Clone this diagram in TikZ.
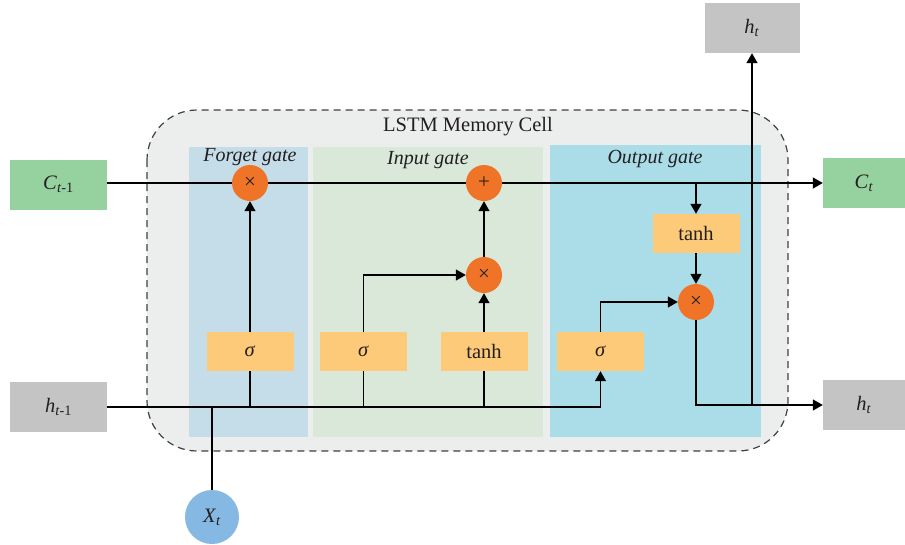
\documentclass[tikz,border=0pt]{standalone}
\usepackage{fontspec}
\setmainfont{Liberation Serif}
\usetikzlibrary{arrows.meta}
\definecolor{cellbg}{HTML}{ECEEED}
\definecolor{fgbg}{HTML}{C5DDE8}
\definecolor{igbg}{HTML}{D9E8D8}
\definecolor{ogbg}{HTML}{ABDDE9}
\definecolor{cgreen}{HTML}{96D1A0}
\definecolor{hgray}{HTML}{C3C4C3}
\definecolor{opor}{HTML}{F07427}
\definecolor{fnbox}{HTML}{FDCA7A}
\definecolor{xblue}{HTML}{85B8E3}
\definecolor{ink}{HTML}{231F20}
\newcommand\varsub[2]{\textit{#1}\textsubscript{#2}}
\begin{document}
\begin{tikzpicture}[x=1pt,y=-1pt,
  txt/.style={font=\fontsize{20.5}{23}\selectfont, text=ink},
  iobox/.style={txt, inner sep=0pt, minimum height=50pt},
  fnode/.style={txt, fill=fnbox, inner sep=0pt, minimum width=87pt, minimum height=39pt},
  opnode/.style={circle, fill=opor, inner sep=0pt, minimum size=36pt, text=ink, font=\fontsize{21}{21}\selectfont},
  gatelbl/.style={txt, font=\fontsize{20}{22}\selectfont\itshape},
  conn/.style={line width=1.3pt, draw=black},
  arr/.style={conn, -{Triangle[length=10pt,width=11pt]}}
]
\useasboundingbox (0,0) rectangle (905,544);
% memory cell
\draw[fill=cellbg, draw=black!75, line width=1.2pt, dash pattern=on 7pt off 5pt, rounded corners=50pt]
  (147,110) rectangle (788,451);
\fill[fgbg] (189,147) rectangle (308,437);
\fill[igbg] (313,147) rectangle (543,437);
\fill[ogbg] (550,145) rectangle (761,437);
\node[txt] (title) at (468,127) {LSTM Memory Cell};
\node[gatelbl] (fgl) at (250,157) {Forget gate};
\node[gatelbl] (igl) at (428,160) {Input gate};
\node[gatelbl] (ogl) at (655,159) {Output gate};
% inputs / outputs
\node[iobox, fill=cgreen, minimum width=97pt] (cm1) at (58.5,184.5) {\varsub{C}{\textit{t}-1}};
\node[iobox, fill=hgray, minimum width=97pt] (hm1) at (58.5,407) {\varsub{h}{\textit{t}-1}};
\node[iobox, fill=cgreen, minimum width=82pt] (ct) at (864,183) {\varsub{C}{\textit{t}}};
\node[iobox, fill=hgray, minimum width=82pt] (ht) at (864,405) {\varsub{h}{\textit{t}}};
\node[iobox, fill=hgray, minimum width=95pt] (htop) at (752,28) {\varsub{h}{\textit{t}}};
\node[circle, fill=xblue, inner sep=0pt, minimum size=54pt, txt] (xt) at (212,517) {\varsub{X}{\textit{t}}};
% operators
\node[opnode] (fx) at (250,183) {×};
\node[opnode] (ip) at (484,183) {+};
\node[opnode] (ix) at (484,275) {×};
\node[opnode] (ox) at (696,302) {×};
% function boxes
\node[fnode] (fs) at (250,351.5) {\textit{σ}};
\node[fnode] (is) at (363.5,351.5) {\textit{σ}};
\node[fnode] (itanh) at (484,351.5) {tanh};
\node[fnode] (os) at (600.5,351.5) {\textit{σ}};
\node[fnode] (otanh) at (696,233.5) {tanh};
% cell state line
\draw[conn] (cm1.east |- fx.west) -- (fx.west);
\draw[conn] (fx.east) -- (ip.west);
\draw[arr] (ip.east) -- (ct.west);
% hidden input line
\draw[arr] (hm1.east) -| (os.south);
\draw[conn] (xt.north) -- (xt.north |- hm1.east);
% forget gate
\draw[conn] (fs.south |- hm1.east) -- (fs.south);
\draw[arr] (fs.north) -- (fx.south);
% input gate
\draw[conn] (is.south |- hm1.east) -- (is.south);
\draw[arr] (is.north) |- (ix.west);
\draw[conn] (itanh.south |- hm1.east) -- (itanh.south);
\draw[arr] (itanh.north) -- (ix.south);
\draw[arr] (ix.north) -- (ip.south);
% output gate
\draw[arr] (otanh.north |- ct.west) -- (otanh.north);
\draw[arr] (otanh.south) -- (ox.north);
\draw[arr] (os.north) |- (ox.west);
\draw[arr] (ox.south) |- (ht.west);
\coordinate (hsplit) at (htop.south |- ht.west);
\draw[arr] (hsplit) -- (htop.south);
\end{tikzpicture}
\end{document}
